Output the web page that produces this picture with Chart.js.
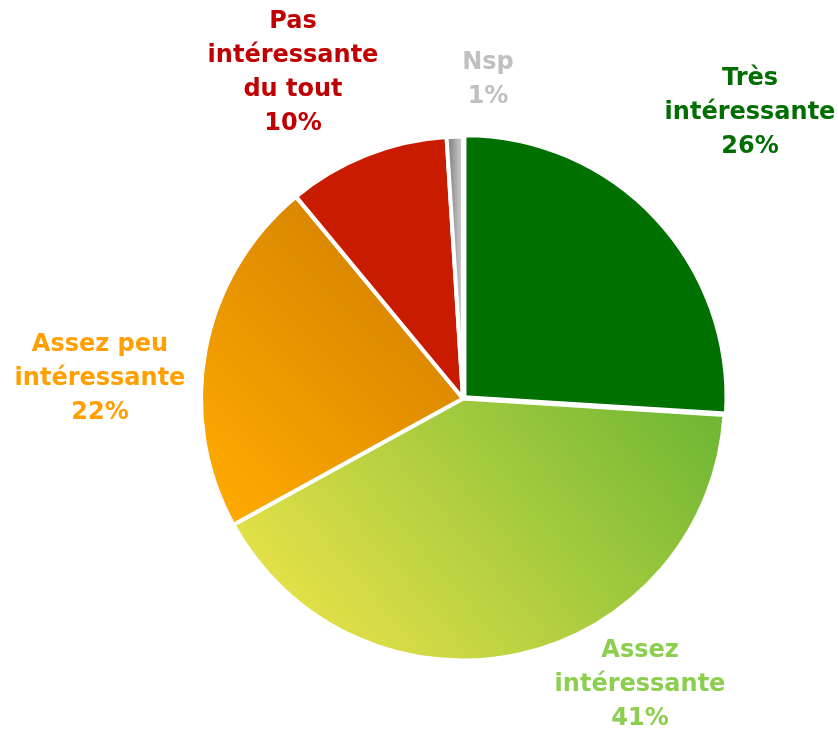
<!DOCTYPE html>
<html>
<head>
<meta charset="utf-8">
<script src="https://cdn.jsdelivr.net/npm/chart.js@4"></script>
<style>
  html, body { margin: 0; padding: 0; background: #fff; }
  #wrap { width: 838px; height: 733px; }
</style>
</head>
<body>
<div id="wrap"><canvas id="pieChart" width="838" height="733"></canvas></div>
<script>
// data
var categories = [
  ['Très', 'intéressante'],
  ['Assez', 'intéressante'],
  ['Assez peu', 'intéressante'],
  ['Pas', 'intéressante', 'du tout'],
  ['Nsp']
];
var values = [26, 41, 22, 10, 1];

// label colours and where the text blocks sit (centre of the block)
var labelColors = ['#006e00', '#8ccf4e', '#ffa000', '#c00000', '#c0c0c0'];
var labelAnchors = [
  [750, 113], [640, 685], [100, 379], [293, 73], [488, 80]
];

function sliceColor(context) {
  var chart = context.chart;
  var c = chart.ctx;
  var area = chart.chartArea;
  if (!area) return '#ccc';
  var i = context.dataIndex;
  var g;
  if (i === 0) return '#007000';
  if (i === 1) {
    g = c.createLinearGradient(330, 660, 680, 360);
    g.addColorStop(0, '#e5e148');
    g.addColorStop(1, '#6cb634');
    return g;
  }
  if (i === 2) {
    g = c.createLinearGradient(215, 510, 420, 300);
    g.addColorStop(0, '#ffaa00');
    g.addColorStop(1, '#d98600');
    return g;
  }
  if (i === 3) return '#c81b00';
  g = c.createLinearGradient(450, 0, 466, 0);
  g.addColorStop(0, '#8a8a8a');
  g.addColorStop(1, '#e6e6e6');
  return g;
}

var outsideLabels = {
  id: 'outsideLabels',
  afterDraw: function (chart) {
    var c = chart.ctx;
    c.save();
    c.font = 'bold 24px "DejaVu Sans"';
    c.textAlign = 'center';
    c.textBaseline = 'middle';
    var lh = 34;
    categories.forEach(function (lines, i) {
      var all = lines.concat([values[i] + '%']);
      var x = labelAnchors[i][0];
      var y0 = labelAnchors[i][1] - (all.length - 1) * lh / 2;
      c.fillStyle = labelColors[i];
      all.forEach(function (t, k) {
        c.fillText(t, x, y0 + k * lh);
      });
    });
    c.restore();
  }
};

var ctx = document.getElementById('pieChart');
var pieChart = new Chart(ctx, {
  type: 'pie',
  data: {
    labels: categories.map(function (l) { return l.join(' '); }),
    datasets: [{
      data: values,
      backgroundColor: sliceColor,
      borderColor: '#ffffff',
      borderWidth: 4,
      offset: [8, 0, 0, 0, 0]
    }]
  },
  options: {
    responsive: false,
    animation: false,
    radius: 262,
    layout: { padding: { left: 88, top: 64, right: 0, bottom: 0 } },
    plugins: {
      legend: { display: false },
      tooltip: { enabled: false }
    }
  },
  plugins: [outsideLabels]
});
</script>
</body>
</html>
